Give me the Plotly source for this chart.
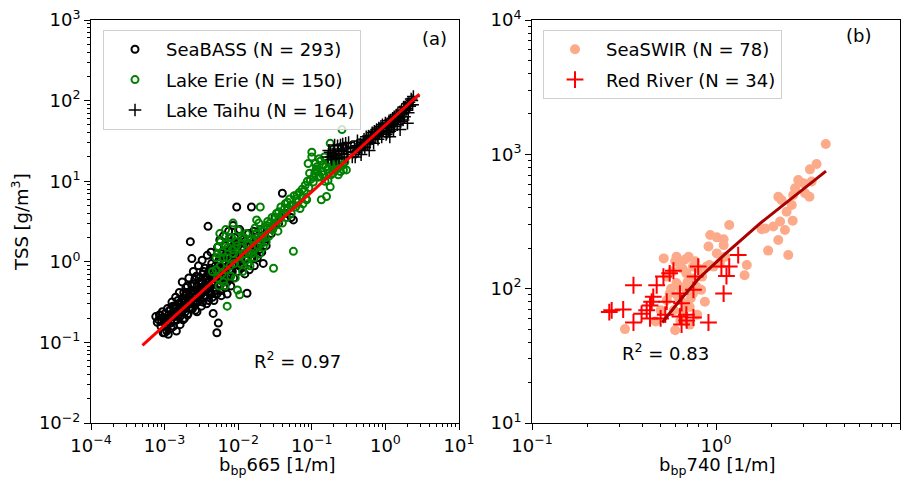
import numpy as np
import plotly.graph_objects as go

# ---------------- Panel (a) data: log10 values ----------------
seabass_log_bbp = [-3.12,-3.08,-3.05,-3.03,-3.02,-3.00,-2.98,-2.97,-2.96,-2.95,-2.93,-2.91,-2.90,-2.88,-2.87,-2.85,
                   -2.84,-2.83,-2.81,-2.80,-2.79,-2.77,-2.76,-2.75,-2.73,-2.72,-2.71,-2.70,-2.68,-2.67,-2.66,-2.65,
                   -2.64,-2.63,-2.62,-2.61,-2.60,-2.58,-2.57,-2.56,-2.55,-2.54,-2.53,-2.52,-2.50,-2.49,-2.48,-2.47,
                   -2.46,-2.45,-2.44,-2.43,-2.42,-2.41,-2.40,-2.39,-2.38,-2.37,-2.36,-2.35,-2.34,-2.33,-2.32,-2.31,
                   -2.30,-2.29,-2.28,-2.27,-2.26,-2.25,-2.24,-2.23,-2.22,-2.21,-2.20,-2.19,-2.18,-2.17,-2.16,-2.15,
                   -2.14,-2.13,-2.12,-2.11,-2.10,-2.09,-2.08,-2.07,-2.06,-2.05,-2.04,-2.02,-2.01,-2.00,-1.98,-1.97,
                   -1.95,-1.93,-1.91,-1.89,-1.88,-1.86,-1.84,-1.82,-1.80,-1.78,-1.76,-1.75,-1.72,-1.70,-1.66,-1.64,
                   -1.60,-1.55,-1.50,-1.45,-1.40,-1.35,-1.28,-1.25,
                   -3.06,-2.99,-2.92,-2.86,-2.82,-2.78,-2.74,-2.69,-2.66,-2.59,-2.51,-2.44,-2.36,-2.28,-2.19,-2.12,
                   -3.10,-3.07,-3.04,-3.01,-2.99,-2.97,-2.95,-2.93,-2.92,-2.90,-2.89,-2.88,-2.86,-2.85,-2.83,-2.82,
                   -2.80,-2.79,-2.78,-2.76,-2.75,-2.74,-2.72,-2.71,-2.70,-2.69,-2.68,-2.67,-2.65,-2.64,-2.63,-2.62,
                   -2.61,-2.60,-2.59,-2.58,-2.57,-2.56,-2.55,-2.54,-2.53,-2.52,-2.51,-2.50,-2.49,-2.48,-2.47,-2.46,
                   -2.45,-2.44,-2.43,-2.42,-2.41,-2.40,-2.39,-2.38,-2.37,-2.36,-2.35,-2.34,-2.33,-2.32,-2.31,-2.30,
                   -2.29,-2.28,-2.27,-2.26,-2.25,-2.24,-2.23,-2.22,-2.21,-2.20,-2.19,-2.18,-2.17,-2.16,-2.15,-2.14,
                   -2.13,-2.12,-2.11,-2.10,-2.08,-2.06,-2.05,-2.03,-2.01,-1.99,-1.96,-1.94,-1.92,-1.90,-1.87,-1.85,
                   -1.83,-1.81,-1.79,-1.77,-1.74,-1.71,-1.68,-1.65,-1.62]
seabass_log_tss = [-0.68,-0.72,-0.80,-0.62,-0.88,-0.88,-0.75,-0.86,-0.58,-0.90,-0.68,-0.82,-0.50,-0.62,-0.74,-0.44,
                   -0.86,-0.56,-0.66,-0.38,-0.78,-0.50,-0.25,-0.60,-0.70,-0.42,-0.32,-0.55,-0.64,-0.20,-0.45,0.25,
                   -0.36,0.04,-0.58,-0.12,-0.28,-0.48,-0.18,-0.62,-0.35,-0.05,-0.42,-0.25,-0.55,0.02,-0.15,-0.32,
                   -0.45,-0.08,-0.22,-0.52,0.08,0.44,-0.30,-0.12,-0.40,0.12,-0.02,-0.25,-0.64,-0.48,0.05,-0.18,
                   -0.35,-0.88,0.18,-0.76,-0.08,0.27,-0.28,-0.42,0.10,-0.15,0.32,-0.02,-0.32,0.20,-0.22,-0.40,
                   0.05,0.38,-0.10,0.25,-0.30,0.12,-0.05,0.45,-0.20,0.30,0.08,0.68,-0.12,0.20,0.40,-0.06,
                   0.15,0.28,-0.15,0.05,-0.39,0.35,0.10,0.68,0.22,-0.05,0.30,0.35,0.15,0.40,-0.02,0.25,
                   0.42,0.35,0.55,0.48,0.85,0.60,0.55,0.52,
                   -0.66,-0.70,-0.60,-0.55,-0.48,-0.62,-0.38,-0.30,-0.52,-0.40,-0.35,-0.30,-0.15,-0.10,-0.08,0.00,
                   -0.75,-0.66,-0.74,-0.70,-0.64,-0.78,-0.70,-0.60,-0.76,-0.66,-0.55,-0.80,-0.68,-0.58,-0.72,-0.62,
                   -0.52,-0.68,-0.58,-0.46,-0.72,-0.55,-0.62,-0.48,-0.38,-0.66,-0.52,-0.42,-0.58,-0.48,-0.30,-0.40,
                   -0.52,-0.36,-0.22,-0.60,-0.44,-0.30,-0.50,-0.38,-0.20,-0.46,-0.32,-0.40,-0.26,-0.50,-0.12,-0.36,
                   -0.28,-0.42,-0.18,-0.34,-0.24,-0.48,-0.30,-0.08,-0.38,-0.20,-0.44,-0.12,-0.28,-0.36,-0.05,-0.22,
                   -0.40,-0.14,-0.30,0.02,-0.20,-0.36,-0.06,-0.24,0.05,-0.15,-0.30,0.00,-0.12,0.10,-0.25,-0.05,
                   0.15,-0.20,0.02,0.18,-0.12,0.08,0.22,-0.02,0.12,0.25,0.05,0.18,-0.05,0.26,0.12,-0.10,
                   0.20,0.05,0.38,0.18,0.05,0.25,0.12,0.32,0.20]

erie_log_bbp = [-2.35,-2.30,-2.28,-2.27,-2.25,-2.24,-2.22,-2.20,-2.18,-2.16,-2.15,-2.15,-2.12,-2.10,-2.08,-2.07,
                -2.05,-2.03,-2.01,-2.00,-1.99,-1.98,-1.96,-1.94,-1.92,-1.90,-1.88,-1.86,-1.84,-1.82,-1.80,-1.78,
                -1.76,-1.75,-1.73,-1.71,-1.70,-1.68,-1.66,-1.64,-1.62,-1.60,-1.58,-1.56,-1.54,-1.52,-1.50,-1.48,
                -1.46,-1.44,-1.42,-1.40,-1.38,-1.36,-1.34,-1.32,-1.30,-1.28,-1.26,-1.25,-1.24,-1.22,-1.20,-1.18,
                -1.16,-1.14,-1.12,-1.10,-1.08,-1.07,-1.05,-1.04,-1.02,-1.00,-1.00,-0.98,-0.96,-0.94,-0.93,-0.91,
                -0.89,-0.88,-0.87,-0.86,-0.84,-0.82,-0.80,-0.79,-0.78,-0.76,-0.75,-0.75,-0.74,-0.72,-0.71,-0.70,
                -0.68,-0.66,-0.64,-0.62,-0.60,-0.59,-0.57,-0.55,-0.53,
                -2.30,-2.28,-2.26,-2.24,-2.22,-2.20,-2.18,-2.17,-2.14,-2.11,-2.09,-2.06,-2.04,-2.02,-1.97,-1.95,
                -1.93,-1.89,-1.87,-1.85,-1.81,-1.79,-1.77,-1.74,-1.72,-1.69,-1.67,-1.63,-1.61,-1.57,-1.53,-1.49,
                -1.45,-1.41,-1.37,-1.33,-1.29,-1.21,-1.17,-1.13,-1.09,-1.06,-1.03,-0.97,-0.95,-0.92,-0.90,-0.85,
                -0.83,-0.81,-0.77,-0.73,-0.69,-0.65,-0.61,-0.58]
erie_log_tss = [-0.12,0.05,-0.20,0.19,0.35,-0.05,0.12,-0.25,0.22,-0.10,0.05,-0.55,0.30,-0.18,0.15,0.48,
                -0.02,0.25,-0.35,0.39,0.08,-0.41,0.18,-0.12,0.30,0.02,0.22,0.12,-0.05,0.28,0.15,0.05,
                0.35,0.52,0.20,0.10,0.68,0.30,0.18,0.40,0.25,0.50,0.32,0.42,0.55,-0.08,0.45,0.60,
                0.38,0.52,0.68,0.48,0.60,0.72,0.55,0.66,0.78,0.60,0.70,0.13,0.82,0.68,0.83,0.75,
                0.66,0.80,0.72,0.88,0.78,0.77,1.22,0.92,1.02,1.30,1.36,0.99,1.10,1.15,1.18,1.05,
                1.06,1.25,0.77,1.12,1.20,1.00,0.81,1.15,1.01,1.22,0.93,1.47,1.08,1.18,1.10,1.30,
                1.14,1.22,1.08,1.18,1.26,1.64,1.14,1.24,1.14,
                -0.10,0.10,-0.30,0.25,-0.15,0.05,-0.30,0.40,0.18,-0.05,0.30,0.10,-0.20,0.20,-0.02,0.30,
                0.10,0.35,-0.02,0.22,0.10,0.26,0.42,0.30,0.48,0.22,0.38,0.30,0.45,0.48,0.40,0.55,
                0.62,0.58,0.66,0.74,0.70,0.78,0.86,0.90,0.95,1.00,1.10,1.05,1.22,1.12,1.28,1.08,
                1.30,1.18,1.10,1.25,1.20,1.30,1.12,1.20]

taihu_log_bbp = [-0.78,-0.75,-0.73,-0.70,-0.68,-0.65,-0.63,-0.60,-0.58,-0.56,-0.53,-0.50,-0.52,
                 -0.45,-0.42,-0.40,-0.38,-0.35,-0.33,-0.30,-0.28,-0.26,-0.24,-0.22,-0.20,-0.18,-0.16,-0.14,
                 -0.12,-0.10,-0.08,-0.06,-0.05,-0.03,0.00,0.01,0.03,0.05,0.06,0.08,0.10,0.11,0.13,0.15,
                 0.16,0.18,0.20,0.21,0.23,0.25,0.26,0.28,0.30,0.31,0.33,0.35,0.37,0.38,0.06,0.20,0.30,
                 -0.77,-0.74,-0.71,-0.69,-0.67,-0.64,-0.61,-0.59,-0.57,-0.54,-0.51,-0.47,-0.44,-0.41,-0.39,-0.37,
                 -0.34,-0.32,-0.29,-0.27,-0.25,-0.23,-0.21,-0.19,-0.17,-0.15,-0.13,-0.11,-0.09,-0.07,-0.04,-0.02,
                 0.02,0.04,0.07,0.09,0.12,0.14,0.17,0.19,0.22,0.24,0.27,0.29,0.32,0.34,0.36,0.02,0.12,0.24]
taihu_log_tss = [1.30,1.36,1.27,1.40,1.32,1.44,1.29,1.38,1.46,1.33,1.41,1.48,1.30,
                 1.30,1.42,1.36,1.50,1.40,1.33,1.48,1.42,1.55,1.46,1.38,1.52,1.60,1.47,1.56,
                 1.64,1.52,1.60,1.68,1.55,1.63,1.72,1.58,1.67,1.75,1.62,1.70,1.78,1.64,1.74,1.82,
                 1.70,1.78,1.86,1.74,1.84,1.92,1.80,1.88,1.96,1.85,1.93,2.02,1.95,2.05,1.55,1.64,1.72,
                 1.38,1.30,1.34,1.45,1.28,1.37,1.45,1.34,1.40,1.47,1.37,1.42,1.36,1.30,1.44,1.38,
                 1.46,1.40,1.52,1.47,1.50,1.56,1.48,1.57,1.53,1.62,1.58,1.56,1.66,1.62,1.70,1.66,
                 1.70,1.62,1.76,1.72,1.80,1.76,1.84,1.80,1.88,1.84,1.92,1.90,1.98,1.95,2.00,1.60,1.68,1.76]

fit_a_bbp = [5.0e-4, 2.9]
fit_a_tss = [0.092, 120.0]

# ---------------- Panel (b) data ----------------
seaswir_bbp = [3.95,3.52,3.24,3.22,3.31,2.99,2.69,2.63,2.58,2.18,2.61,2.47,2.18,2.23,2.05,1.85,2.37,1.92,
               1.18,1.10,1.01,0.93,0.91,1.47,1.43,0.87,0.52,0.32,0.47,0.60,0.61,0.71,0.64,0.75,0.89,0.97,
               1.05,0.61,0.69,0.75,0.64,0.72,0.59,0.79,0.66,0.54,0.75,0.84,0.69,0.54,0.64,0.72,1.01,1.12,
               1.10,2.80,3.05,2.27,2.42,1.77,0.63,0.56,0.50,0.78,0.66,0.58,0.70,0.62,0.68,0.73,0.57,0.66,
               0.81,0.92,0.77,0.68,0.60,0.83]
seaswir_tss = [1194,848,773,484,627,608,558,498,420,484,321,178,230,316,290,281,273,192,
               298,233,241,251,206,150,126,80,168,50,57,49,173,173,150,146,146,146,
               155,110,98,92,82,73,69,64,60,82,119,123,130,123,58,54,183,173,
               211,644,513,457,374,277,104,92,69,104,140,135,112,88,78,85,100,68,
               140,150,160,165,160,98]

red_bbp = [0.263,0.271,0.313,0.356,0.356,0.394,0.438,0.447,0.456,0.438,0.476,0.518,0.54,0.53,0.587,0.637,
           0.65,0.637,0.65,0.693,0.754,0.754,0.77,0.80,0.91,1.07,1.18,1.14,1.10,1.32,0.42,0.50,0.69,0.56]
red_tss = [67,69,70,106,56,65,60,80,87,75,106,123,80,64,136,92,
           78,62,54,58,61,98,123,146,56,146,146,124,92,178,69,60,64,130]

fit_b_bbp = [0.51, 0.637, 0.82, 1.14, 1.73, 2.63, 3.96]
fit_b_tss = [56, 82, 122, 185, 305, 480, 750]

FONT = "DejaVu Sans"
fig = go.Figure()

fig.add_trace(go.Scatter(x=10 ** np.array(seabass_log_bbp), y=10 ** np.array(seabass_log_tss), mode="markers",
                         name="SeaBASS (N = 293)", legend="legend", legendgroup="g1",
                         marker=dict(symbol="circle-open", size=7, color="black", line=dict(width=2, color="black")),
                         xaxis="x", yaxis="y"))
fig.add_trace(go.Scatter(x=10 ** np.array(erie_log_bbp), y=10 ** np.array(erie_log_tss), mode="markers",
                         name="Lake Erie (N = 150)", legend="legend", legendgroup="g2",
                         marker=dict(symbol="circle-open", size=7, color="green", line=dict(width=2, color="green")),
                         xaxis="x", yaxis="y"))
fig.add_trace(go.Scatter(x=10 ** np.array(taihu_log_bbp), y=10 ** np.array(taihu_log_tss), mode="markers",
                         name="Lake Taihu (N = 164)", legend="legend", legendgroup="g3",
                         marker=dict(symbol="cross-thin-open", size=9, color="black", line=dict(width=1.5, color="black")),
                         xaxis="x", yaxis="y"))
fig.add_trace(go.Scatter(x=fit_a_bbp, y=fit_a_tss, mode="lines", showlegend=False,
                         line=dict(color="red", width=3), xaxis="x", yaxis="y"))

fig.add_trace(go.Scatter(x=seaswir_bbp, y=seaswir_tss, mode="markers", name="SeaSWIR (N = 78)",
                         legend="legend2", legendgroup="g4",
                         marker=dict(symbol="circle", size=10, color="rgb(252,170,138)"),
                         xaxis="x2", yaxis="y2"))
fig.add_trace(go.Scatter(x=red_bbp, y=red_tss, mode="markers", name="Red River (N = 34)",
                         legend="legend2", legendgroup="g5",
                         marker=dict(symbol="cross-thin-open", size=12, color="red", line=dict(width=2, color="red")),
                         xaxis="x2", yaxis="y2"))
fig.add_trace(go.Scatter(x=fit_b_bbp, y=fit_b_tss, mode="lines", showlegend=False,
                         line=dict(color="rgb(170,0,0)", width=3), xaxis="x2", yaxis="y2"))


def pw(e):
    return "10<sup>%s</sup>" % (str(e).replace("-", "\u2212"))


def minors(e0, e1):
    return [m * 10.0 ** e for e in range(e0, e1) for m in range(2, 10)]


def axis(domain, anchor, exps, e0, e1):
    return dict(type="log", domain=domain, anchor=anchor, range=[e0, e1], automargin=False,
                tickmode="array", tickvals=[10.0 ** e for e in exps], ticktext=[pw(e) for e in exps],
                ticks="outside", ticklen=6, tickwidth=1, tickcolor="black",
                minor=dict(tickmode="array", tickvals=minors(e0, e1), ticks="outside", ticklen=3,
                           tickcolor="black", showgrid=False),
                showline=True, linecolor="black", linewidth=1, mirror=True, showgrid=False, zeroline=False,
                tickfont=dict(family=FONT, size=18, color="black"))


xd1 = [91 / 913, 459 / 913]
xd2 = [532 / 913, 900 / 913]
yd = [1 - 423 / 481, 1 - 20 / 481]

legend_style = dict(yanchor="top", xanchor="left", bgcolor="rgba(255,255,255,0.8)",
                    bordercolor="#d0d0d0", borderwidth=1, font=dict(family=FONT, size=18, color="black"),
                    itemwidth=52, tracegroupgap=4)

fig.update_layout(
    template="none",
    width=913, height=481, margin=dict(l=0, r=0, t=0, b=0, autoexpand=False),
    paper_bgcolor="white", plot_bgcolor="white",
    font=dict(family=FONT, size=18, color="black"),
    xaxis=axis(xd1, "y", [-4, -3, -2, -1, 0, 1], -4, 1),
    yaxis=axis(yd, "x", [-2, -1, 0, 1, 2, 3], -2, 3),
    xaxis2=axis(xd2, "y2", [-1, 0, 1], -1, 1),
    yaxis2=axis(yd, "x2", [1, 2, 3, 4], 1, 4),
    legend=dict(x=103 / 913, y=1 - 30 / 481, **legend_style),
    legend2=dict(x=543 / 913, y=1 - 30 / 481, **legend_style),
    showlegend=True,
)

ann = [
    dict(text="(a)", x=434 / 913, y=1 - 38 / 481),
    dict(text="(b)", x=858 / 913, y=1 - 35 / 481),
    dict(text="R<sup>2</sup> = 0.97", x=297 / 913, y=1 - 360 / 481),
    dict(text="R<sup>2</sup> = 0.83", x=665 / 913, y=1 - 352 / 481),
    dict(text="b<sub>bp</sub>665 [1/m]", x=277 / 913, y=1 - 466 / 481),
    dict(text="b<sub>bp</sub>740 [1/m]", x=717 / 913, y=1 - 466 / 481),
    dict(text="TSS [g/m<sup>3</sup>]", x=20 / 913, y=1 - 222 / 481, textangle=-90),
]
for a in ann:
    fig.add_annotation(xref="paper", yref="paper", showarrow=False, xanchor="center", yanchor="middle",
                       font=dict(family=FONT, size=18, color="black"), **a)

fig.write_html("out.html")
